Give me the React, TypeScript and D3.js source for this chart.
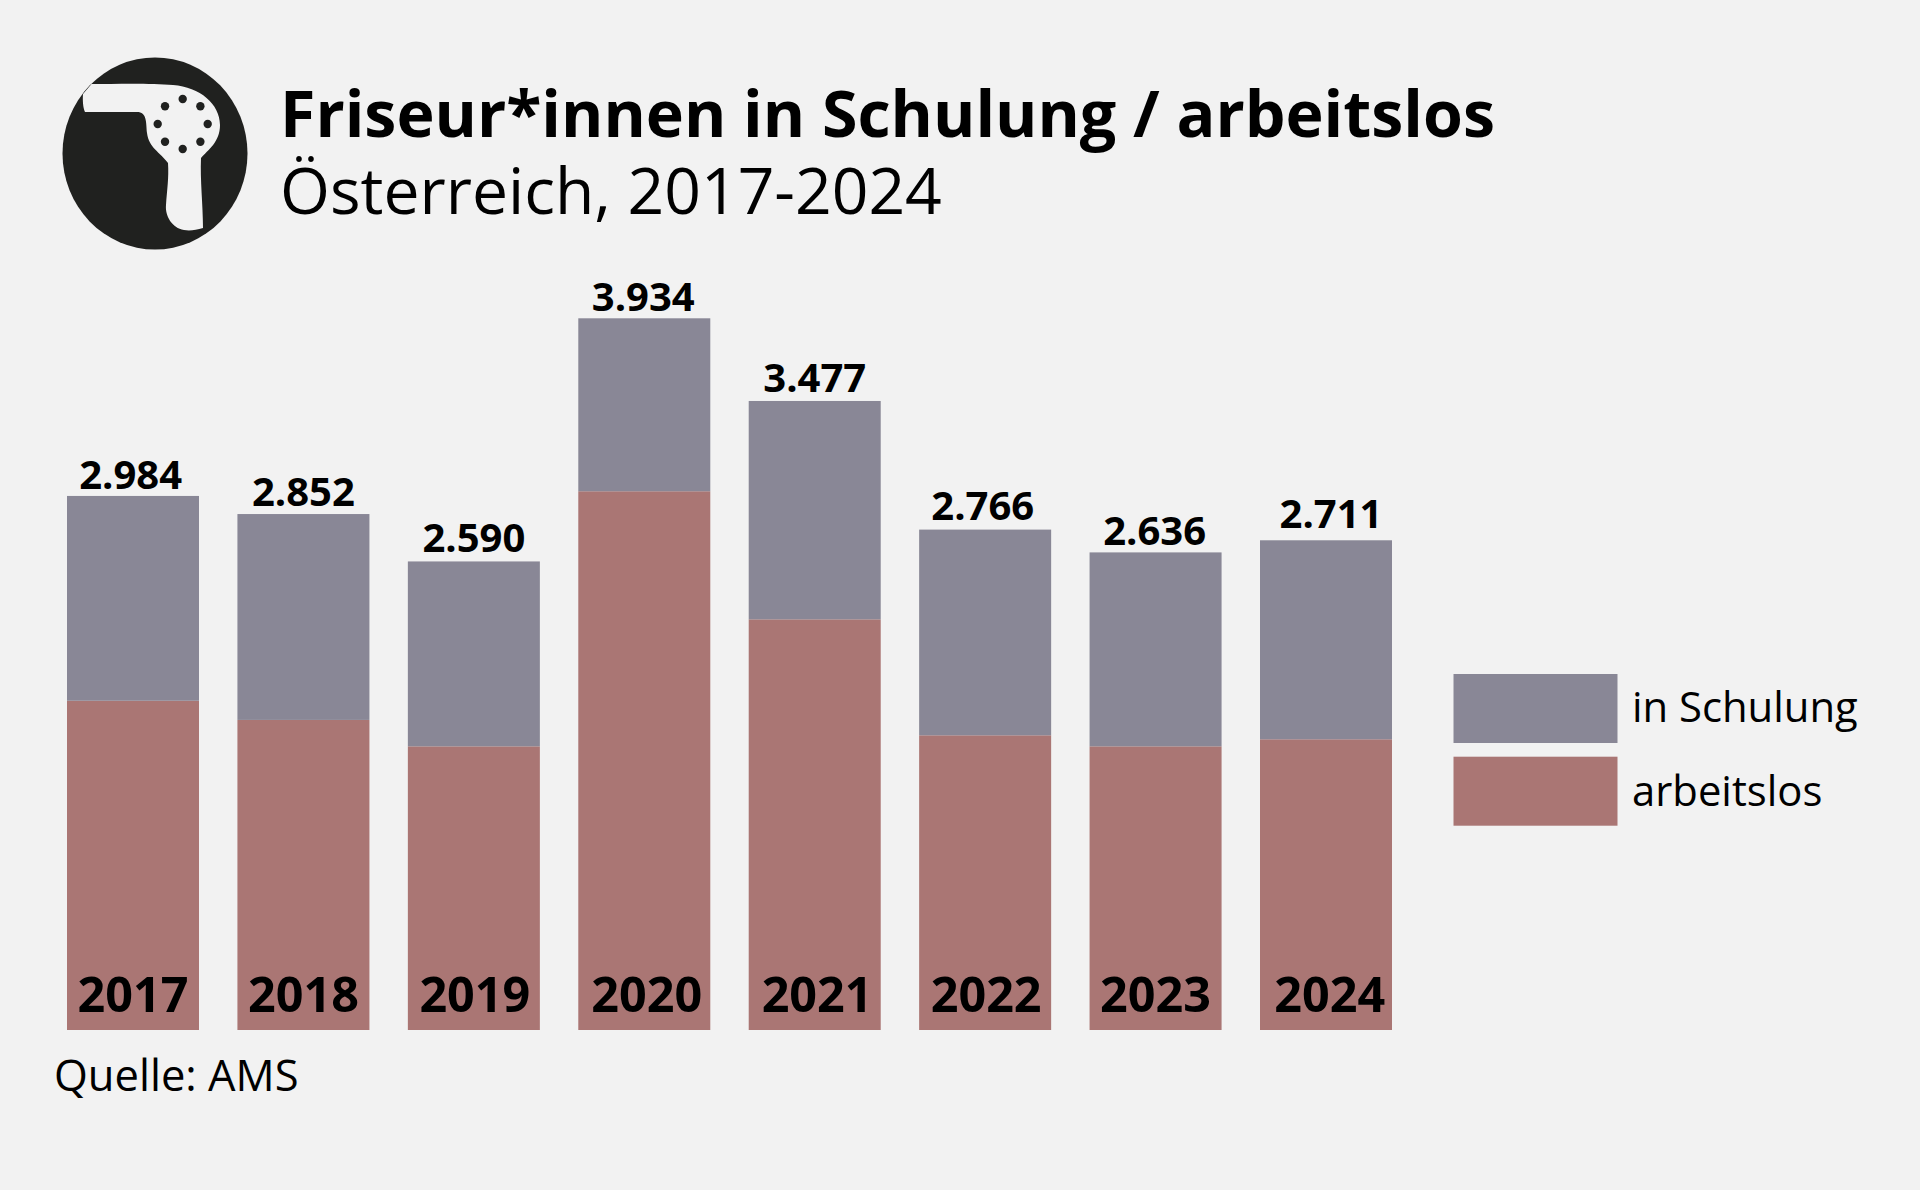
import { useEffect } from "react";
import * as d3 from "d3";

const years = ["2017", "2018", "2019", "2020", "2021", "2022", "2023", "2024"];
const arbeitslos = [1820, 1714, 1568, 2978, 2270, 1629, 1568, 1607];
const inSchulung = [1132, 1138, 1022, 956, 1207, 1137, 1072, 1100];
const totals = ["2.984", "2.852", "2.590", "3.934", "3.477", "2.766", "2.636", "2.711"];
const seriesNames = ["arbeitslos", "in Schulung"];
const seriesColors = ["#aa7674", "#898796"];

// labels are hand placed in the original, not exactly centred
const totalNudgeX = [-2.4, 0, 0, -1, 0, -2.4, -1, 5];
const totalNudgeY = [0, -1, -2.4, 0, -2.4, -2.4, 0, -5];
const yearNudgeX = [0, 0, 1, 2.4, 2.4, 1, 0, 3.7];

const W = 1920;
const H = 1190;
const FONT = '"Open Sans", sans-serif';

export default function App() {
  useEffect(() => {
    document.body.style.margin = "0";
  }, []);

  const x = d3.scaleBand().domain(years).range([67, 1392]).paddingInner(0.2255);
  const y = d3.scaleLinear().domain([0, 3934]).range([1030, 318.3]);

  const rows = years.map((year, i) => ({
    year,
    arbeitslos: arbeitslos[i],
    "in Schulung": inSchulung[i],
  }));
  const stacked = d3.stack<any>().keys(seriesNames)(rows);

  // Duschkopf-Icon
  const dots = d3.range(8).map((i) => (i * Math.PI) / 4);

  return (
    <svg width={W} height={H} viewBox={`0 0 ${W} ${H}`} style={{ display: "block" }} fontFamily={FONT}>
      <rect width={W} height={H} fill="#f2f2f2" />

      <ellipse cx={155} cy={153.5} rx={92.5} ry={96} fill="#20211f" />
      <path
        d="M91.5 84 C115 84 150 83 173 85 C200 87 220 104 220 125 C220 142 208 150 201 158 C200 180 203 205 203 228 C196 230 190 231 184 230 C172 228 165 216 166 205 C167 190 169 178 168 163 C160 152 149 148 147 133 C146 122 147 112 137 112 C120 112 100 112 85 112 C83 108 82.5 100 83 94 L91.5 84 Z"
        fill="#f2f2f2"
      />
      {dots.map((a, i) => (
        <circle key={i} cx={182.7 + 25 * Math.cos(a)} cy={124 + 25 * Math.sin(a)} r={4.2} fill="#20211f" />
      ))}

      <text x={280} y={137} fontSize={64.5} fontWeight={700} fill="#000">
        Friseur*innen in Schulung / arbeitslos
      </text>
      <text x={280} y={213.5} fontSize={64.2} fill="#000">
        Österreich, 2017-2024
      </text>

      {stacked.map((s, si) =>
        s.map((d, i) => (
          <rect
            key={`${si}-${i}`}
            x={x(years[i])}
            y={y(d[1])}
            width={x.bandwidth()}
            height={y(d[0]) - y(d[1])}
            fill={seriesColors[si]}
          />
        )),
      )}

      {years.map((year, i) => (
        <text
          key={year}
          x={x(year)! + x.bandwidth() / 2 + totalNudgeX[i]}
          y={y(arbeitslos[i] + inSchulung[i]) - 7 + totalNudgeY[i]}
          textAnchor="middle"
          fontSize={40}
          fontWeight={700}
          fill="#000"
        >
          {totals[i]}
        </text>
      ))}

      {years.map((year, i) => (
        <text
          key={year}
          x={x(year)! + x.bandwidth() / 2 + yearNudgeX[i]}
          y={1011.5}
          textAnchor="middle"
          fontSize={48.5}
          fontWeight={700}
          fill="#000"
        >
          {year}
        </text>
      ))}

      {/* Legende */}
      {["in Schulung", "arbeitslos"].map((name, i) => (
        <g key={name} transform={`translate(1453.5,${674 + i * 82.7})`}>
          <rect width={164} height={69} fill={seriesColors[seriesNames.indexOf(name)]} />
          <text x={178.5} y={47.5 + i * 2.3} fontSize={41.8} fill="#000">
            {name}
          </text>
        </g>
      ))}

      <text x={54} y={1090.5} fontSize={43.5} fill="#000">
        Quelle: AMS
      </text>
    </svg>
  );
}
